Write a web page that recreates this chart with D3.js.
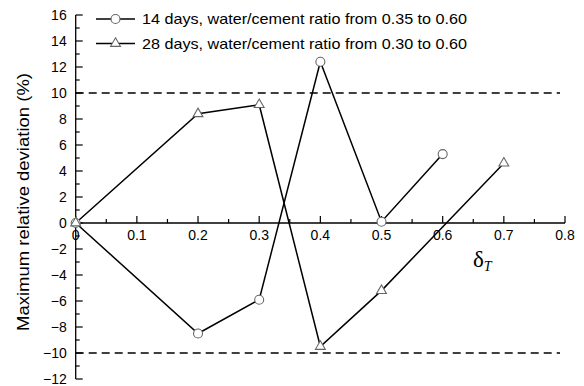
<!DOCTYPE html>
<html>
<head>
<meta charset="utf-8">
<script src="https://cdn.jsdelivr.net/npm/d3@7/dist/d3.min.js"></script>
<style>
  html, body { margin: 0; padding: 0; background: #fff; }
  svg { display: block; }
  text { font-family: "Liberation Sans", Arial, sans-serif; fill: #000; }
</style>
</head>
<body>
<svg id="chart" width="584" height="386"></svg>
<script>
// Mix proportion ratio (x) and maximum relative deviation in percent (y)
const ratio14 = [0, 0.2, 0.3, 0.4, 0.5, 0.6];
const dev14   = [0, -8.5, -5.9, 12.4, 0.1, 5.3];
const ratio28 = [0, 0.2, 0.3, 0.4, 0.5, 0.7];
const dev28   = [0, 8.4, 9.1, -9.5, -5.2, 4.6];

const seriesNames = [
  "14 days, water/cement ratio from 0.35 to 0.60",
  "28 days, water/cement ratio from 0.30 to 0.60"
];
const limitLines = [10, -10];
const xTicks = [0, 0.1, 0.2, 0.3, 0.4, 0.5, 0.6, 0.7, 0.8];
const yTicks = [-12, -10, -8, -6, -4, -2, 0, 2, 4, 6, 8, 10, 12, 14, 16];

const svg = d3.select("#chart");
const x = d3.scaleLinear().domain([0, 0.8]).range([75.7, 565]);
const y = d3.scaleLinear().domain([-12, 16]).range([379, 15]);

const fmtY = d => d < 0 ? "\u2212" + Math.abs(d) : String(d);

// y axis with ticks pointing inward
const yAxis = svg.append("g").attr("transform", `translate(${x(0)},0)`);
yAxis.append("line").attr("y1", y(-12)).attr("y2", y(16))
  .attr("stroke", "#000").attr("stroke-width", 1.3);
yAxis.selectAll("line.minor").data(d3.range(-11, 16, 2)).join("line")
  .attr("class", "minor").attr("x1", 0).attr("x2", 4)
  .attr("y1", d => y(d)).attr("y2", d => y(d))
  .attr("stroke", "#000").attr("stroke-width", 1.2);
yAxis.selectAll("line.major").data(yTicks).join("line")
  .attr("class", "major").attr("x1", 0).attr("x2", 7)
  .attr("y1", d => y(d)).attr("y2", d => y(d))
  .attr("stroke", "#000").attr("stroke-width", 1.2);
yAxis.selectAll("text").data(yTicks).join("text")
  .attr("x", -9).attr("y", d => y(d)).attr("dy", "0.36em")
  .attr("text-anchor", "end").attr("font-size", 14)
  .text(fmtY);

// x axis along y = 0 with ticks pointing up
const xAxis = svg.append("g").attr("transform", `translate(0,${y(0)})`);
xAxis.append("line").attr("x1", x(0)).attr("x2", x(0.8))
  .attr("stroke", "#000").attr("stroke-width", 1.3);
xAxis.selectAll("line.minor").data(d3.range(0.05, 0.8, 0.1)).join("line")
  .attr("class", "minor").attr("x1", d => x(d)).attr("x2", d => x(d))
  .attr("y1", 0).attr("y2", -4)
  .attr("stroke", "#000").attr("stroke-width", 1.2);
xAxis.selectAll("line.major").data(xTicks).join("line")
  .attr("class", "major").attr("x1", d => x(d)).attr("x2", d => x(d))
  .attr("y1", 0).attr("y2", -7)
  .attr("stroke", "#000").attr("stroke-width", 1.2);
xAxis.selectAll("text").data(xTicks).join("text")
  .attr("x", d => x(d)).attr("y", 17)
  .attr("text-anchor", "middle").attr("font-size", 14)
  .text(d => String(d));

// ±10 % limit lines
svg.selectAll("line.limit").data(limitLines).join("line")
  .attr("class", "limit")
  .attr("x1", x(0)).attr("x2", 560)
  .attr("y1", d => y(d)).attr("y2", d => y(d))
  .attr("stroke", "#000").attr("stroke-width", 1.3)
  .attr("stroke-dasharray", "8,5");

// series lines
const line = d3.line().x(d => x(d[0])).y(d => y(d[1]));
const s14 = d3.zip(ratio14, dev14);
const s28 = d3.zip(ratio28, dev28);
[s14, s28].forEach(s => {
  svg.append("path").datum(s).attr("d", line)
    .attr("fill", "none").attr("stroke", "#000").attr("stroke-width", 1.5);
});

// markers
const markColor = "#666";
const tri = d3.symbol().type(d3.symbolTriangle).size(42);
svg.selectAll("circle.m14").data(s14).join("circle")
  .attr("class", "m14")
  .attr("cx", d => x(d[0])).attr("cy", d => y(d[1])).attr("r", 4.5)
  .attr("fill", "#fff").attr("stroke", markColor).attr("stroke-width", 1.1);
svg.selectAll("path.m28").data(s28).join("path")
  .attr("class", "m28")
  .attr("transform", d => `translate(${x(d[0])},${y(d[1])})`)
  .attr("d", tri)
  .attr("fill", "#fff").attr("stroke", markColor).attr("stroke-width", 1.1);

// legend
const legend = svg.append("g");
[0, 1].forEach(i => {
  const ly = 19 + i * 24.5;
  legend.append("line").attr("x1", 96).attr("x2", 135)
    .attr("y1", ly).attr("y2", ly)
    .attr("stroke", "#000").attr("stroke-width", 1.5);
  if (i === 0) {
    legend.append("circle").attr("cx", 115.5).attr("cy", ly).attr("r", 4.5)
      .attr("fill", "#fff").attr("stroke", markColor).attr("stroke-width", 1.1);
  } else {
    legend.append("path").attr("transform", `translate(115.5,${ly})`).attr("d", tri)
      .attr("fill", "#fff").attr("stroke", markColor).attr("stroke-width", 1.1);
  }
  legend.append("text").attr("x", 142).attr("y", ly).attr("dy", "0.36em")
    .attr("font-size", 14.5)
    .attr("textLength", 325).attr("lengthAdjust", "spacingAndGlyphs")
    .text(seriesNames[i]);
});

// axis titles
svg.append("text")
  .attr("transform", "translate(29,202) rotate(-90)")
  .attr("text-anchor", "middle").attr("font-size", 16)
  .attr("textLength", 258).attr("lengthAdjust", "spacingAndGlyphs")
  .text("Maximum relative deviation (%)");

const xt = svg.append("text").attr("x", 473).attr("y", 267)
  .style("font-family", "'Liberation Serif', 'Times New Roman', serif");
xt.append("tspan").attr("font-size", 23).text("\u03B4");
xt.append("tspan").attr("font-size", 14).attr("font-style", "italic")
  .attr("dy", 4).text("T");
</script>
</body>
</html>
